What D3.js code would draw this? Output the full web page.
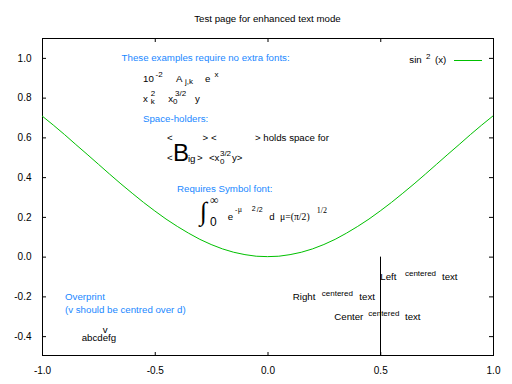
<!DOCTYPE html>
<html>
<head>
<meta charset="utf-8">
<script src="https://cdn.jsdelivr.net/npm/d3@7"></script>
<style>
  body { margin: 0; background: #fff; }
</style>
</head>
<body>
<svg id="chart"></svg>
<script>
const sans = "'Liberation Sans', Arial, Helvetica, sans-serif";
const serif = "'Liberation Serif', 'Times New Roman', serif";
const blue = "#1a88ff";
const textSize = 9.7;

// sin^2(x) curve, sampled off the plot
const curveX = [-1.00, -0.95, -0.90, -0.85, -0.80, -0.75, -0.70, -0.65, -0.60, -0.55, -0.50,
                -0.45, -0.40, -0.35, -0.30, -0.25, -0.20, -0.15, -0.10, -0.05, 0.00,
                0.05, 0.10, 0.15, 0.20, 0.25, 0.30, 0.35, 0.40, 0.45, 0.50,
                0.55, 0.60, 0.65, 0.70, 0.75, 0.80, 0.85, 0.90, 0.95, 1.00];
const curveY = [0.708, 0.662, 0.614, 0.564, 0.515, 0.465, 0.415, 0.366, 0.319, 0.273, 0.230,
                0.189, 0.152, 0.118, 0.087, 0.061, 0.039, 0.022, 0.010, 0.002, 0.000,
                0.002, 0.010, 0.022, 0.039, 0.061, 0.087, 0.118, 0.152, 0.189, 0.230,
                0.273, 0.319, 0.366, 0.415, 0.465, 0.515, 0.564, 0.614, 0.662, 0.708];

const xTicks = [-1.0, -0.5, 0.0, 0.5, 1.0];
const yTicks = [-0.4, -0.2, 0.0, 0.2, 0.4, 0.6, 0.8, 1.0];
const xDomain = [-1, 1];
const yDomain = [-0.5, 1.1];

// vertical guide line for the alignment labels
const guideX = [0.5, 0.5];
const guideY = [0.0, -0.5];

const title = "Test page for enhanced text mode";
const keyParts = [{t: "sin"}, {t: "2", dx: 16.7, dy: -4.5, size: 8}, {t: "(x)", dx: 25.7}];

// labels: anchor in data coords, pieces offset in px from that anchor
const labels = [
  {x: -0.647, y: 0.986, color: blue, pieces: [{t: "These examples require no extra fonts:"}]},
  {x: -0.552, y: 0.880, pieces: [
    {t: "10"}, {t: "-2", dx: 12.5, dy: -4.5, size: 8},
    {t: "A", dx: 33}, {t: "j,k", dx: 42, dy: 2.5, size: 8},
    {t: "e", dx: 62}, {t: "x", dx: 71.5, dy: -5, size: 8}]},
  {x: -0.552, y: 0.780, pieces: [
    {t: "x"}, {t: "2", dx: 7.7, dy: -6, size: 8}, {t: "k", dx: 7.7, dy: 2, size: 8},
    {t: "x", dx: 25.3}, {t: "0", dx: 30, dy: 2, size: 8}, {t: "3/2", dx: 32, dy: -6, size: 8},
    {t: "y", dx: 52}]},
  {x: -0.552, y: 0.679, color: blue, pieces: [{t: "Space-holders:"}]},
  {x: -0.446, y: 0.582, pieces: [
    {t: "<"}, {t: "> <", dx: 35.7}, {t: "> holds space for", dx: 88}]},
  {x: -0.446, y: 0.481, pieces: [
    {t: "<"}, {t: "B", dx: 6, size: 24}, {t: "ig", dx: 21, dy: 1},
    {t: ">", dx: 30}, {t: "<x", dx: 42},
    {t: "0", dx: 53, dy: 3, size: 8}, {t: "3/2", dx: 53, dy: -5, size: 8},
    {t: "y>", dx: 65}]},
  {x: -0.401, y: 0.325, color: blue, pieces: [{t: "Requires Symbol font:"}]},
  {x: -0.299, y: 0.184, pieces: [
    {t: "\u222B", dx: 0, dy: 0, size: 26, serif: true},
    {t: "\u221E", dx: 10, dy: -16, size: 12, serif: true},
    {t: "0", dx: 10, dy: 6, size: 12},
    {t: "e", dx: 27.7},
    {t: "-", dx: 35, dy: -8, size: 7},
    {t: "\u03BC", dx: 37.7, dy: -8, size: 8, serif: true},
    {t: "2", dx: 51.7, dy: -9, size: 7},
    {t: "/2", dx: 56.7, dy: -8, size: 7},
    {t: "d", dx: 69.3},
    {t: "\u03BC=(\u03C0/2)", dx: 80, serif: true},
    {t: "1/2", dx: 116.7, dy: -7, size: 8, serif: true}]},
  {x: -0.898, y: -0.218, color: blue, pieces: [{t: "Overprint"}]},
  {x: -0.898, y: -0.284, color: blue, pieces: [{t: "(v should be centred over d)"}]},
  {x: -0.824, y: -0.423, pieces: [{t: "abcdefg"}, {t: "v", dx: 21, dy: -7.7}]},
  {x: 0.500, y: -0.118, pieces: [
    {t: "Left"}, {t: "centered", dx: 24.7, dy: -4, size: 8}, {t: "text", dx: 61.7}]},
  {x: 0.112, y: -0.218, pieces: [
    {t: "Right"}, {t: "centered", dx: 29, dy: -4, size: 8}, {t: "text", dx: 66.6}]},
  {x: 0.296, y: -0.319, pieces: [
    {t: "Center"}, {t: "centered", dx: 34, dy: -4, size: 8}, {t: "text", dx: 70.7}]}
];

const width = 512, height = 384;
const margin = {top: 38, right: 19, bottom: 28, left: 42};

const svg = d3.select("#chart")
  .attr("width", width)
  .attr("height", height)
  .attr("font-family", sans)
  .attr("font-size", 10);

svg.append("rect").attr("width", width).attr("height", height).attr("fill", "#fff");

const x = d3.scaleLinear(xDomain, [margin.left, width - margin.right]);
const y = d3.scaleLinear(yDomain, [height - margin.bottom, margin.top]);
const x0 = margin.left, x1 = width - margin.right, y0 = height - margin.bottom, y1 = margin.top;

const fmt = d => d.toFixed(1);

// axes (ticks point inward, mirrored on top/right)
svg.append("g")
  .attr("transform", `translate(0,${y0})`)
  .call(d3.axisBottom(x).tickValues(xTicks).tickSize(-4).tickPadding(10.7).tickFormat(fmt))
  .call(g => g.select(".domain").remove());
svg.append("g")
  .attr("transform", `translate(0,${y1})`)
  .call(d3.axisTop(x).tickValues(xTicks).tickSize(-4).tickFormat(""))
  .call(g => g.select(".domain").remove());
svg.append("g")
  .attr("transform", `translate(${x0},0)`)
  .call(d3.axisLeft(y).tickValues(yTicks).tickSize(-4).tickPadding(10.5).tickFormat(fmt))
  .call(g => g.select(".domain").remove());
svg.append("g")
  .attr("transform", `translate(${x1},0)`)
  .call(d3.axisRight(y).tickValues(yTicks).tickSize(-4).tickFormat(""))
  .call(g => g.select(".domain").remove());

svg.selectAll(".tick text").attr("font-family", sans).attr("font-size", 10).attr("fill", "#000");
svg.selectAll(".tick line").attr("stroke", "#000");

// frame
svg.append("rect")
  .attr("x", x0 + 0.5).attr("y", y1 + 0.5)
  .attr("width", x1 - x0).attr("height", y0 - y1 - 1)
  .attr("fill", "none").attr("stroke", "#000");

// title
svg.append("text")
  .attr("x", (x0 + x1) / 2).attr("y", 22)
  .attr("text-anchor", "middle")
  .attr("font-size", textSize)
  .text(title);

// curve
const pts = d3.range(curveX.length).map(i => [curveX[i], curveY[i]]);
svg.append("path")
  .datum(pts)
  .attr("fill", "none")
  .attr("stroke", "#00c000")
  .attr("stroke-width", 1)
  .attr("d", d3.line().x(d => x(d[0])).y(d => y(d[1])));

// guide line
svg.append("line")
  .attr("x1", Math.round(x(guideX[0])) + 0.5).attr("x2", Math.round(x(guideX[1])) + 0.5)
  .attr("y1", y(guideY[0])).attr("y2", y(guideY[1]))
  .attr("stroke", "#000");

// key
const key = svg.append("g").attr("transform", `translate(409.3,63.3)`);
keyParts.forEach(p => key.append("text")
  .attr("x", p.dx || 0).attr("y", p.dy || 0)
  .attr("font-size", p.size || textSize).text(p.t));
svg.append("line")
  .attr("x1", 454).attr("x2", 482).attr("y1", 60.5).attr("y2", 60.5)
  .attr("stroke", "#00c000");

// labels
labels.forEach(l => {
  const g = svg.append("g")
    .attr("transform", `translate(${x(l.x)},${y(l.y)})`)
    .attr("fill", l.color || "#000");
  l.pieces.forEach(p => g.append("text")
    .attr("x", p.dx || 0).attr("y", p.dy || 0)
    .attr("font-size", p.size || textSize)
    .attr("font-family", p.serif ? serif : sans)
    .text(p.t));
});
</script>
</body>
</html>
